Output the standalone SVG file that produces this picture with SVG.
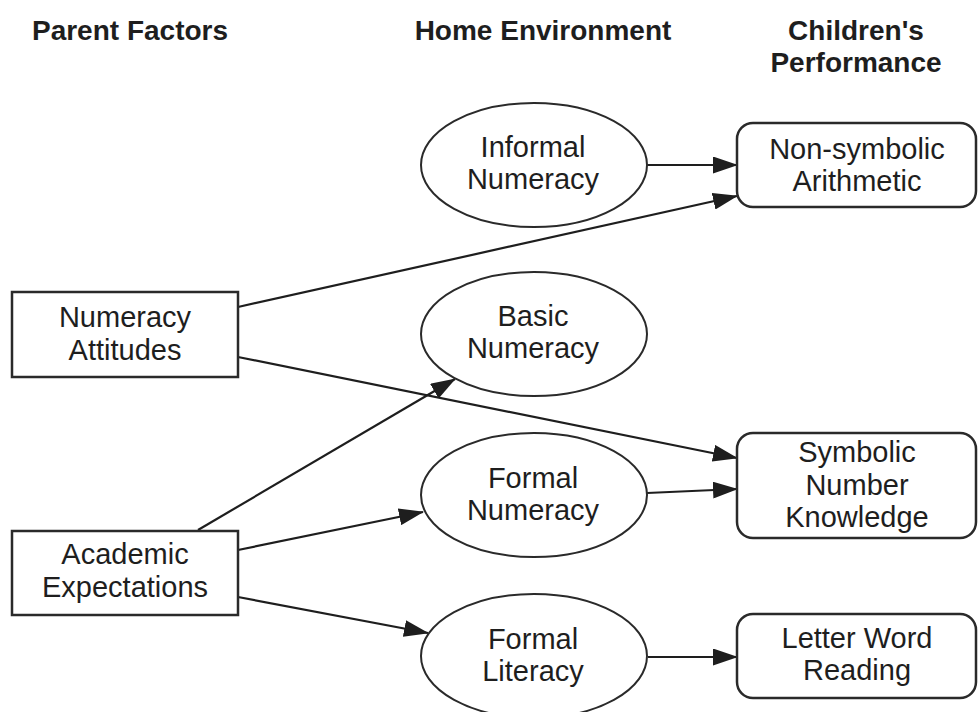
<svg xmlns="http://www.w3.org/2000/svg" width="978" height="712" viewBox="0 0 978 712">
  <defs>
    <marker id="arr" markerUnits="userSpaceOnUse" markerWidth="25" markerHeight="17" refX="24" refY="8.5" orient="auto">
      <path d="M0,0 L25,8.5 L0,17 Z" fill="#1e1e1e"/>
    </marker>
  </defs>
  <style>
    .title { font-family: "Liberation Sans", Arial, sans-serif; font-weight: bold; font-size: 28px; fill: #1e1e1e; text-anchor: middle; }
    .lbl { font-family: "Liberation Sans", Arial, sans-serif; font-size: 29px; fill: #1e1e1e; text-anchor: middle; }
    .box { fill: #ffffff; stroke: #2a2a2a; stroke-width: 2.5; }
    .ell { fill: #ffffff; stroke: #2a2a2a; stroke-width: 2; }
    .edge { fill: none; stroke: #1e1e1e; stroke-width: 2.2; marker-end: url(#arr); }
  </style>
  <rect x="0" y="0" width="978" height="712" fill="#ffffff"/>

  <g id="titles">
    <text class="title" x="130" y="40">Parent Factors</text>
    <text class="title" x="543" y="40">Home Environment</text>
    <text class="title" x="856" y="40">Children's</text>
    <text class="title" x="856" y="72">Performance</text>
  </g>

  <g id="connectors">
    <line class="edge" x1="647" y1="165" x2="737" y2="165"/>
    <line class="edge" x1="238" y1="307" x2="737" y2="196"/>
    <line class="edge" x1="238" y1="357" x2="737" y2="458"/>
    <line class="edge" x1="198" y1="530" x2="455" y2="379"/>
    <line class="edge" x1="238" y1="550" x2="423" y2="512"/>
    <line class="edge" x1="238" y1="597" x2="428" y2="633"/>
    <line class="edge" x1="647" y1="493" x2="737" y2="489"/>
    <line class="edge" x1="648" y1="657" x2="737" y2="657"/>
  </g>

  <g id="numeracy-attitudes">
    <rect class="box" x="12" y="292" width="226" height="85"/>
    <text class="lbl" x="125" y="327">Numeracy</text>
    <text class="lbl" x="125" y="360">Attitudes</text>
  </g>
  <g id="academic-expectations">
    <rect class="box" x="12" y="531" width="226" height="84"/>
    <text class="lbl" x="125" y="564">Academic</text>
    <text class="lbl" x="125" y="597">Expectations</text>
  </g>

  <g id="informal-numeracy">
    <ellipse class="ell" cx="534" cy="165" rx="113" ry="62"/>
    <text class="lbl" x="533" y="157">Informal</text>
    <text class="lbl" x="533" y="189">Numeracy</text>
  </g>
  <g id="basic-numeracy">
    <ellipse class="ell" cx="534" cy="334" rx="113" ry="62"/>
    <text class="lbl" x="533" y="326">Basic</text>
    <text class="lbl" x="533" y="358">Numeracy</text>
  </g>
  <g id="formal-numeracy">
    <ellipse class="ell" cx="534" cy="495" rx="113" ry="62"/>
    <text class="lbl" x="533" y="488">Formal</text>
    <text class="lbl" x="533" y="520">Numeracy</text>
  </g>
  <g id="formal-literacy">
    <ellipse class="ell" cx="534" cy="656" rx="113" ry="62"/>
    <text class="lbl" x="533" y="649">Formal</text>
    <text class="lbl" x="533" y="681">Literacy</text>
  </g>

  <g id="non-symbolic-arithmetic">
    <rect class="box" x="737" y="123" width="239" height="84" rx="16" ry="16"/>
    <text class="lbl" x="857" y="159">Non-symbolic</text>
    <text class="lbl" x="857" y="191">Arithmetic</text>
  </g>
  <g id="symbolic-number-knowledge">
    <rect class="box" x="737" y="433" width="239" height="105" rx="16" ry="16"/>
    <text class="lbl" x="857" y="462">Symbolic</text>
    <text class="lbl" x="857" y="495">Number</text>
    <text class="lbl" x="857" y="527">Knowledge</text>
  </g>
  <g id="letter-word-reading">
    <rect class="box" x="737" y="614" width="239" height="84" rx="16" ry="16"/>
    <text class="lbl" x="857" y="648">Letter Word</text>
    <text class="lbl" x="857" y="680">Reading</text>
  </g>
</svg>
